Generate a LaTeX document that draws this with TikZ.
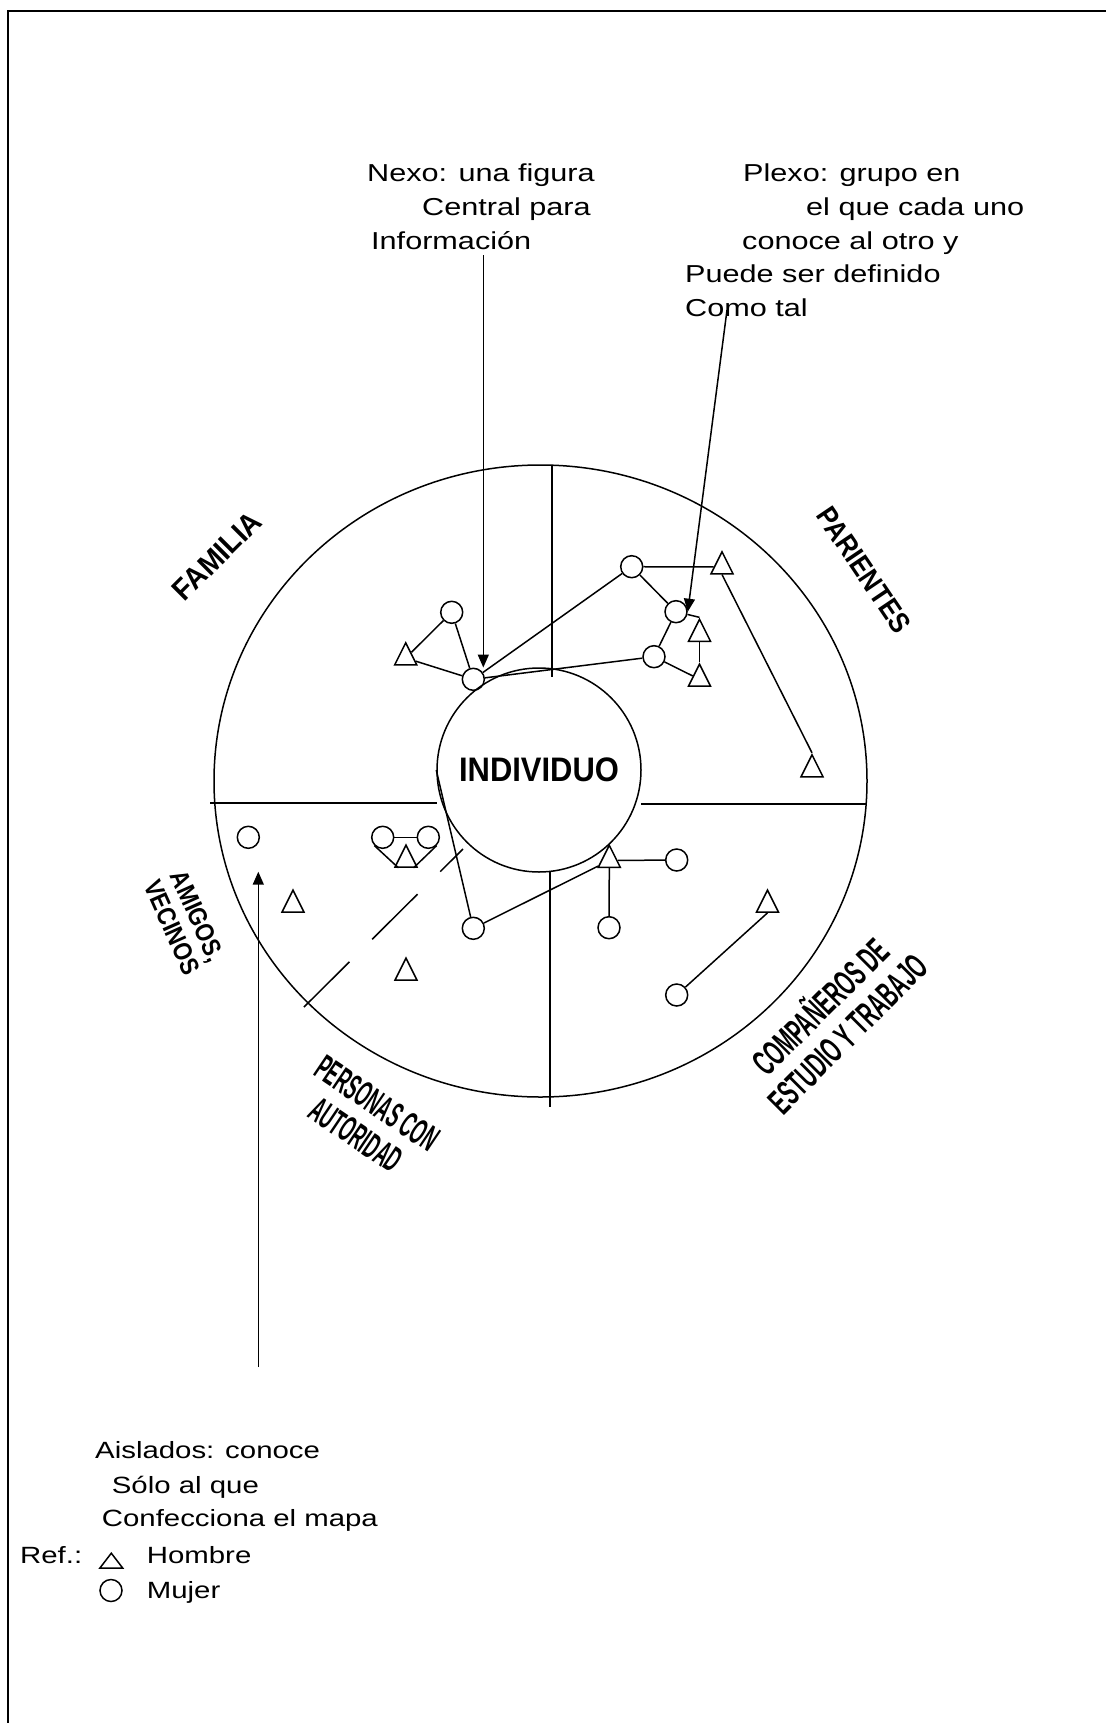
\documentclass[tikz,border=0pt]{standalone}
\usepackage{fontspec}
\usepackage{graphicx}
\setmainfont{Liberation Sans}[FakeStretch=1.25]
\newfontfamily\rotulos{Liberation Sans}
\usetikzlibrary{shapes.geometric,arrows.meta}
\newcommand{\angosto}[2]{\scalebox{#1}[1]{\begin{tabular}{@{}c@{}}#2\end{tabular}}}
\tikzset{
  mujer/.style={circle,draw,line width=1.5pt,minimum size=22pt,inner sep=0pt},
  hombre/.style={isosceles triangle,isosceles triangle stretches=true,shape border rotate=90,
    draw,line width=1.5pt,minimum width=22pt,minimum height=22pt,inner sep=0pt},
  centro/.style={circle,draw,line width=1.5pt,minimum size=204pt,inner sep=0pt,
    font=\rotulos\bfseries\fontsize{34}{40}\selectfont},
  lazo/.style={line width=1.5pt},
  flecha/.style={line width=1.5pt,-{Triangle[length=13pt,width=11pt]}},
  texto/.style={font=\fontsize{23.5}{33}\selectfont,inner sep=0pt,anchor=base west},
  nota/.style={texto,font=\fontsize{24.5}{33}\selectfont},
  rotulo/.style={font=\rotulos\bfseries,inner sep=0pt},
}
\begin{document}
\begin{tikzpicture}[x=1pt,y=-1pt]
    \useasboundingbox (0,0) rectangle (1106,1723);
    \draw[line width=2pt] (8,1723) -- (8,11.5) -- (1106,11.5);
    \draw[lazo] (540.5,781) ellipse [x radius=326.5,y radius=316];
    \node[centro] (ind) at (539,770) {\scalebox{0.91}[1]{INDIVIDUO}};
    \draw[lazo] (210,803) -- (437,803);
    \draw[lazo] (641,804) -- (867,804);
    \draw[lazo] (552,465) -- (552,677);
    \draw[lazo] (550,872) -- (550,1107);
    \draw[lazo,dash pattern=on 64pt off 32pt] (304,1007) -- (463,849);
    \node[rotulo,rotate=45] (familia) at (217,556) {\fontsize{30}{34}\selectfont\scalebox{0.93}[1]{FAMILIA}};
    \node[rotulo,rotate=-56] (parientes) at (864,570) {\fontsize{29}{32}\selectfont\scalebox{0.88}[1]{PARIENTES}};
    \node[rotulo,rotate=-66] (amigos) at (182,923) {\fontsize{26}{28}\selectfont\angosto{0.86}{AMIGOS,\\VECINOS}};
    \node[rotulo,rotate=-34] (autoridad) at (364,1123) {\fontsize{36}{38}\selectfont\angosto{0.48}{PERSONAS CON\\AUTORIDAD}};
    \node[rotulo,rotate=45] (companeros) at (836,1022) {\fontsize{36}{38}\selectfont\angosto{0.55}{COMPAÑEROS DE\\ESTUDIO Y TRABAJO}};
    \node[mujer] (m1) at (451.7,612.3) {};
    \node[hombre] (h1) at (405.7,658) {};
    \node[mujer] (m2) at (473.3,679.3) {};
    \node[mujer] (m3) at (631.7,566.7) {};
    \node[hombre] (h2) at (722,567) {};
    \node[mujer] (m4) at (676,611.7) {};
    \node[hombre] (h3) at (699.5,634.5) {};
    \node[mujer] (m5) at (654,656.7) {};
    \node[hombre] (h4) at (699.5,679.3) {};
    \node[hombre] (h5) at (812,770) {};
    \node[mujer] (m6) at (248.3,837.3) {};
    \node[mujer] (m7) at (382.7,837.3) {};
    \node[mujer] (m8) at (428.3,837.3) {};
    \node[hombre] (h6) at (406,860.3) {};
    \node[hombre] (h7) at (293,905.3) {};
    \node[hombre] (h8) at (406,973.3) {};
    \node[mujer] (m9) at (473.3,928.3) {};
    \node[hombre] (h9) at (609.3,860.5) {};
    \node[mujer] (m10) at (676.7,860) {};
    \node[mujer] (m11) at (609,927.7) {};
    \node[hombre] (h10) at (767.5,905.3) {};
    \node[mujer] (m12) at (676.7,995) {};
    \draw[lazo] (m1) -- (h1);
    \draw[lazo] (m1) -- (m2);
    \draw[lazo] (h1) -- (m2);
    \draw[lazo] (m2) -- (m3);
    \draw[lazo] (m2) -- (m5);
    \draw[lazo] (m3) -- (h2);
    \draw[lazo] (m3) -- (m4);
    \draw[lazo] (m4) -- (m5);
    \draw[lazo] (m4) -- (h3.apex);
    \draw[lazo] (m5) -- (h4);
    \draw[lazo] (h3) -- (h4);
    \draw[lazo] (h2.south) -- (h5.apex);
    \draw[lazo] (m7) -- (m8);
    \draw[lazo] (m7.south west) -- (h6.south west);
    \draw[lazo] (m8.south east) -- (h6.south east);
    \draw[lazo] (m9) -- (ind.west);
    \draw[lazo] (m9) -- (h9);
    \draw[lazo] (h9) -- (m10);
    \draw[lazo] (h9.south) -- (m11);
    \draw[lazo] (h10.south) -- (m12);
    \node[nota] (nexo1) at (367,182) {Nexo: una figura};
    \node[nota] (nexo2) at (422,215.5) {Central para};
    \node[nota] (nexo3) at (371,249) {Información};
    \node[nota] (plexo1) at (743,182) {Plexo: grupo en};
    \node[nota] (plexo2) at (806,215.5) {el que cada uno};
    \node[nota] (plexo3) at (742,249) {conoce al otro y};
    \node[nota] (plexo4) at (685,282.5) {Puede ser definido};
    \node[nota] (plexo5) at (685,316) {Como tal};
    \coordinate (nexoini) at (483.3,255);
    \draw[flecha] (nexoini) -- (nexoini |- m2.north);
    \coordinate (plexoini) at (727,310);
    \draw[flecha] (plexoini) -- (m4.east);
    \coordinate (aisini) at (258.3,1367);
    \coordinate (aisfin) at (258.3,871.7);
    \draw[flecha] (aisini) -- (aisfin);
    \node[texto] (ais1) at (95,1458) {Aislados: conoce};
    \node[texto] (ais2) at (111.7,1493) {Sólo al que};
    \node[texto] (ais3) at (101.7,1526) {Confecciona el mapa};
    \node[texto] (ref) at (20,1563) {Ref.:};
    \node[hombre,minimum width=23pt,minimum height=15pt] (refh) at (111.3,1562.5) {};
    \node[texto] (hombre) at (146.7,1563) {Hombre};
    \node[mujer] (refm) at (111,1590.5) {};
    \node[texto] (mujer) at (146.7,1598) {Mujer};
\end{tikzpicture}
\end{document}
